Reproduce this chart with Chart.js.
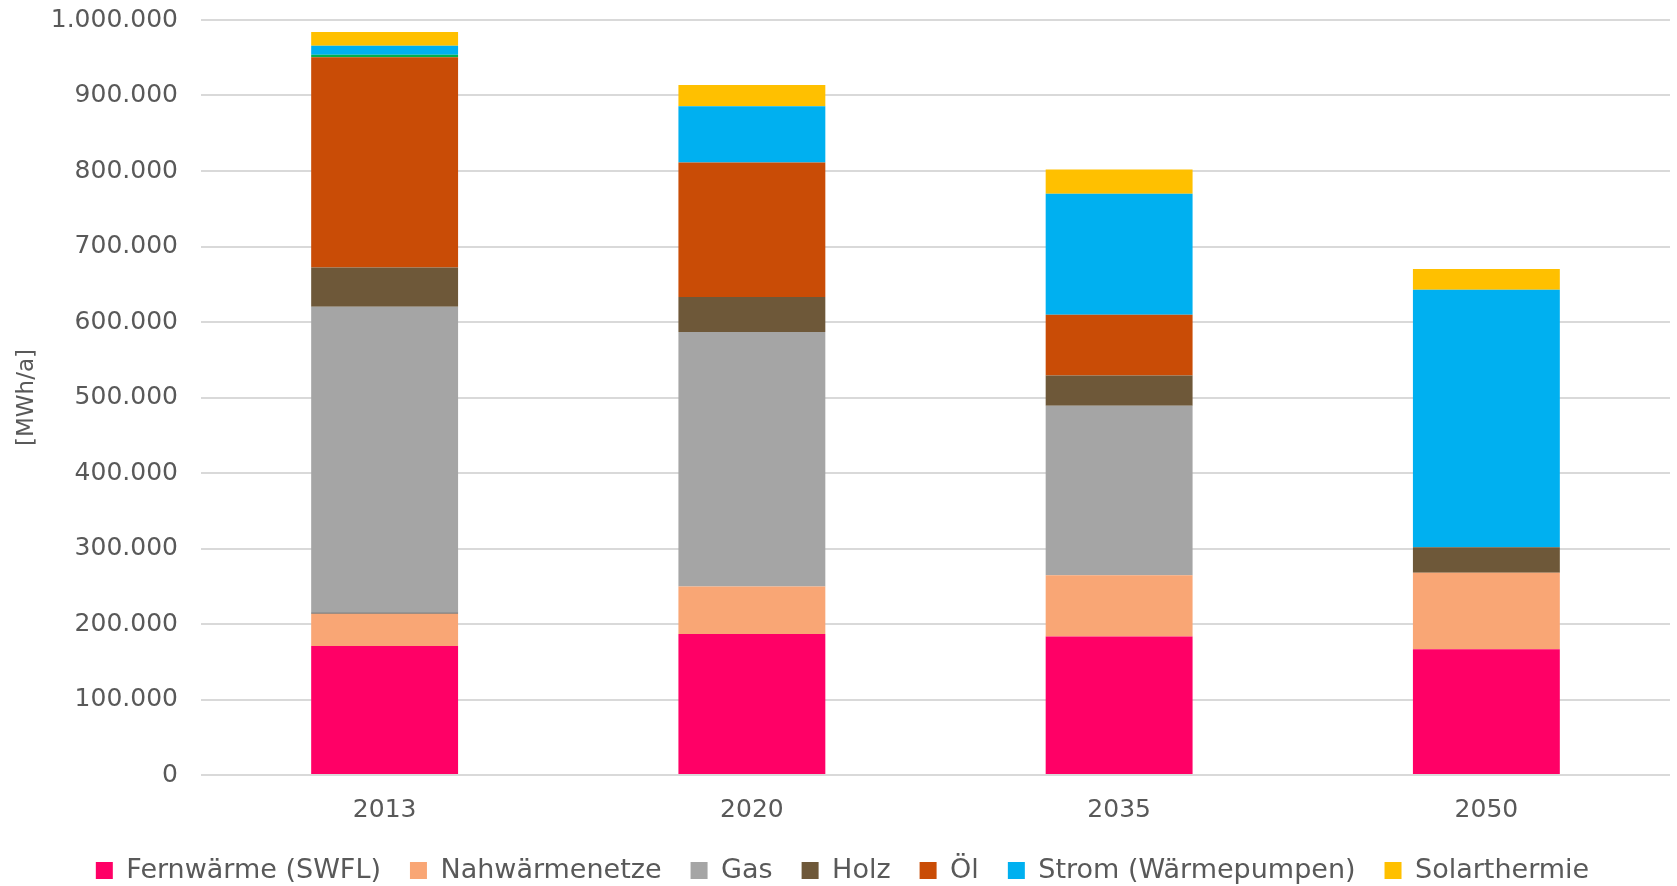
<!DOCTYPE html>
<html>
<head>
<meta charset="utf-8">
<script src="https://cdn.jsdelivr.net/npm/chart.js@4.4.1/dist/chart.umd.min.js"></script>
<style>
  html, body { margin: 0; padding: 0; background: #fff; }
  #wrap { width: 1677px; height: 886px; position: relative; }
</style>
</head>
<body>
<div id="wrap"><canvas id="heatChart"></canvas></div>
<script>
// Werte in MWh/a
const years = ['2013', '2020', '2035', '2050'];
const fernwaerme = [170700, 186600, 183500, 166700];
const nahwaerme = [42900, 63100, 81200, 101100];
const sonstigeGrau = [1500, 0, 0, 0];      // dünner Streifen ohne Legendeneintrag
const gas = [405200, 337000, 224500, 0];
const holz = [51900, 46300, 40100, 33900];
const oel = [278400, 178200, 80300, 0];
const sonstigeGruen = [3500, 0, 0, 0];     // dünner Streifen ohne Legendeneintrag
const strom = [11900, 74600, 160200, 341000];
const solar = [18100, 28200, 32100, 27400];

const hiddenLabels = ['Sonstige', 'Sonstige 2'];
const textColor = '#595959';

function fmt(v) {
  return String(v).replace(/\B(?=(\d{3})+(?!\d))/g, '.');
}

function ds(label, data, color) {
  return { label, data, backgroundColor: color, borderWidth: 0, barPercentage: 0.4, categoryPercentage: 1 };
}

const ctx = document.getElementById('heatChart').getContext('2d');

new Chart(ctx, {
  type: 'bar',
  data: {
    labels: years,
    datasets: [
      ds('Fernwärme (SWFL)', fernwaerme, '#ff0066'),
      ds('Nahwärmenetze', nahwaerme, '#f9a675'),
      ds('Sonstige', sonstigeGrau, '#595959'),
      ds('Gas', gas, '#a5a5a5'),
      ds('Holz', holz, '#6e5839'),
      ds('Öl', oel, '#c94c06'),
      ds('Sonstige 2', sonstigeGruen, '#00b050'),
      ds('Strom (Wärmepumpen)', strom, '#00b0f0'),
      ds('Solarthermie', solar, '#ffc000'),
    ]
  },
  options: {
    responsive: true,
    maintainAspectRatio: false,
    animation: false,
    layout: { padding: { left: 15, right: 7, top: 3, bottom: -8 } },
    plugins: {
      tooltip: { enabled: false },
      legend: {
        display: true,
        position: 'bottom',
        labels: {
          color: textColor,
          font: { family: 'DejaVu Sans', size: 27 },
          boxWidth: 17,
          boxHeight: 17,
          padding: 29,
          filter: (item) => !hiddenLabels.includes(item.text),
        }
      }
    },
    scales: {
      x: {
        stacked: true,
        grid: { display: false },
        border: { display: false },
        ticks: { color: textColor, font: { family: 'DejaVu Sans', size: 25 }, padding: 12 },
        afterFit: (scale) => { scale.height = 53; }
      },
      y: {
        stacked: true,
        min: 0,
        max: 1000000,
        border: { display: false },
        grid: { color: '#d9d9d9', lineWidth: 2, drawTicks: false },
        ticks: {
          stepSize: 100000,
          color: textColor,
          padding: 23,
          font: { family: 'DejaVu Sans', size: 25 },
          callback: (v) => fmt(v)
        },
        title: {
          display: true,
          text: '[MWh/a]',
          color: textColor,
          font: { family: 'DejaVu Sans', size: 23 },
          padding: { top: -2, bottom: 0 }
        },
        afterFit: (scale) => {
          scale.width = 186;
          scale.paddingTop = 20;
        }
      }
    }
  }
});
</script>
</body>
</html>
